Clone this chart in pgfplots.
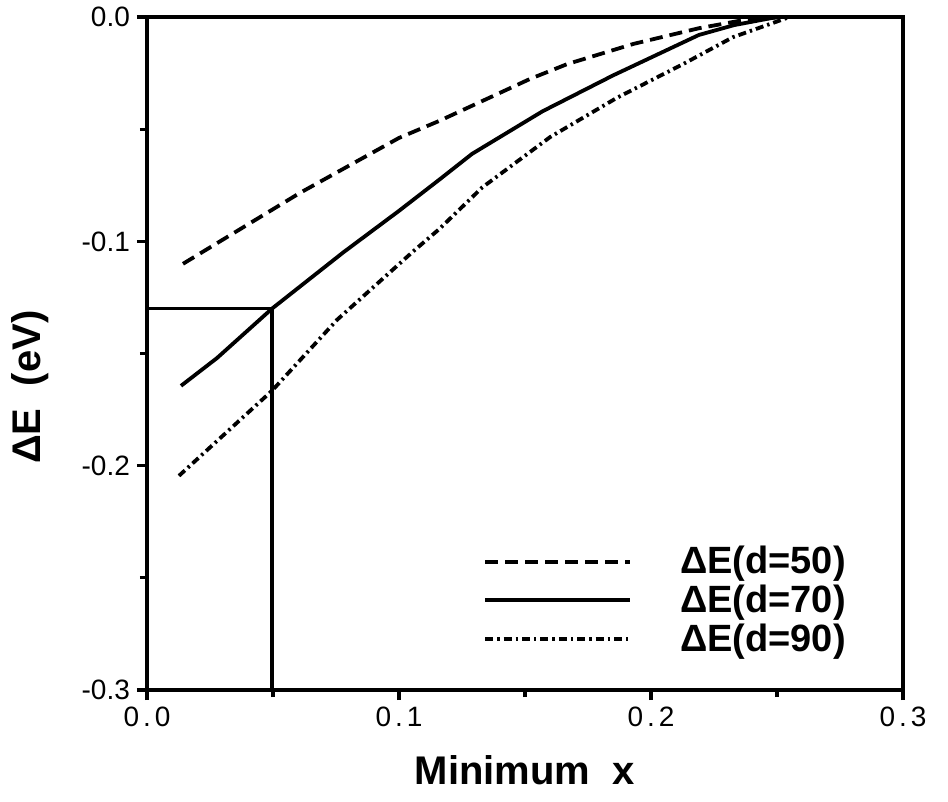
\documentclass[border=0pt]{standalone}
\usepackage{pgfplots}
\pgfplotsset{compat=1.18}
\usepackage{fontspec}
\setmainfont{Liberation Sans}

\begin{document}
\begin{tikzpicture}
\begin{axis}[
  scale only axis,
  width=378pt, height=336.5pt,
  xmin=0, xmax=0.3,
  ymin=-0.3, ymax=0,
  axis line style={line width=1.8pt},
  tick style={line width=1.6pt, black},
  tick align=outside,
  major tick length=5pt,
  minor tick length=3.5pt,
  xtick={0,0.1,0.2,0.3},
  xticklabels={0\kern2pt.\kern2pt0,0\kern2pt.\kern2pt1,0\kern2pt.\kern2pt2,0\kern2pt.\kern2pt3},
  ytick={-0.3,-0.2,-0.1,0},
  yticklabels={-0.3,-0.2,-0.1,0.0},
  minor xtick={0.05,0.15,0.25},
  minor ytick={-0.25,-0.15,-0.05},
  xtick pos=bottom, ytick pos=left,
  tick label style={font=\fontsize{14}{16}\selectfont},
  xlabel={\textbf{Minimum\ \ x}},
  ylabel={\textbf{ΔE\ \ (eV)}},
  xlabel style={font=\fontsize{20}{23}\selectfont, at={(axis description cs:0.5,-0.119)}, anchor=center},
  ylabel style={font=\fontsize{20}{23}\selectfont, at={(axis description cs:-0.155,0.45)}, anchor=center},
  clip=false,
  legend cell align=left,
  legend style={draw=none, fill=none, at={(axis cs:0.1333,-0.234)}, anchor=north west,
    font=\fontsize{19}{21}\selectfont\bfseries, row sep=0pt, inner sep=0pt},
  legend image code/.code={
    \draw[#1] (0pt,0pt) -- (72.5pt,0pt);
  },
]
  % d=50
  \addplot[black, line width=1.9pt, dash pattern=on 6.5pt off 3.5pt]
    coordinates {(0.0143,-0.110) (0.0607,-0.0784) (0.100,-0.0539) (0.116,-0.0463)
      (0.152,-0.0276) (0.1667,-0.021) (0.193,-0.012) (0.219,-0.005) (0.236,-0.0015) (0.252,0)};
  \addlegendentry{\hspace{22pt}ΔE(d=50)}
  % d=70
  \addplot[black, line width=1.9pt]
    coordinates {(0.0135,-0.1644) (0.0278,-0.152) (0.0496,-0.130) (0.0778,-0.105)
      (0.100,-0.0864) (0.116,-0.0725) (0.129,-0.061) (0.157,-0.042) (0.185,-0.026)
      (0.219,-0.008) (0.233,-0.0036) (0.250,0)};
  \addlegendentry{\hspace{22pt}ΔE(d=70)}
  % d=90
  \addplot[black, line width=1.9pt, dash pattern=on 4pt off 2pt on 1.2pt off 2pt]
    coordinates {(0.0127,-0.2045) (0.0496,-0.1666) (0.0754,-0.135) (0.1056,-0.1045)
      (0.116,-0.0945) (0.133,-0.076) (0.160,-0.0535) (0.1865,-0.036) (0.2127,-0.021)
      (0.2325,-0.009) (0.255,0)};
  \addlegendentry{\hspace{22pt}ΔE(d=90)}
  % guide lines at x = 0.0496
  \addplot[black, line width=1.6pt, forget plot]
    coordinates {(0,-0.130) (0.0496,-0.130) (0.0496,-0.3)};
  \path (axis description cs:-0.1944,1.0253) rectangle (axis description cs:1.0595,-0.1649);
\end{axis}
\end{tikzpicture}
\end{document}
